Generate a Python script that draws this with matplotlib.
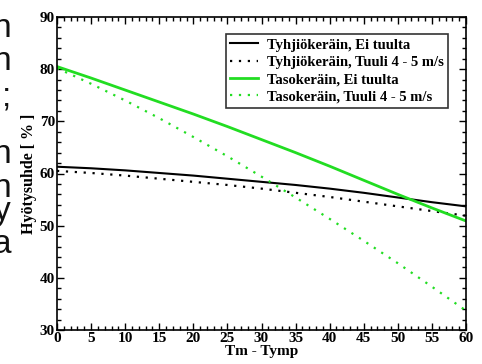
import numpy as np
import matplotlib
matplotlib.use("Agg")
import matplotlib.pyplot as plt
from matplotlib.ticker import MultipleLocator

# Values
dT = [0, 5, 10, 15, 20, 25, 30, 35, 40, 45, 50, 55, 60]
tyhjio_ei = [61.3, 61.0, 60.6, 60.1, 59.6, 59.0, 58.4, 57.8, 57.1, 56.3, 55.4, 54.5, 53.7]
tyhjio_tuuli = [60.5, 60.1, 59.6, 59.0, 58.4, 57.8, 57.1, 56.3, 55.5, 54.6, 53.7, 52.8, 51.9]
taso_ei = [80.5, 78.3, 76.0, 73.7, 71.4, 69.0, 66.5, 64.0, 61.4, 58.7, 56.0, 53.4, 50.9]
taso_tuuli = [80.2, 77.2, 74.0, 70.6, 67.0, 63.3, 59.4, 55.4, 51.3, 47.1, 42.8, 38.3, 33.7]

labels = ["Tyhjiökeräin, Ei tuulta", "Tyhjiökeräin, Tuuli 4 - 5 m/s",
          "Tasokeräin, Ei tuulta", "Tasokeräin, Tuuli 4 - 5 m/s"]

# fragments of the surrounding page text, cut at the left edge
side_chars = ["n", "n", ";", "n", "n", "y", "a"]
side_base = [37, 70, 105, 163, 197, 220, 253]

green = "#22dd22"

plt.rcParams["font.family"] = ["Liberation Serif", "DejaVu Serif"]
plt.rcParams["font.weight"] = "bold"
plt.rcParams["axes.labelweight"] = "bold"

fig = plt.figure(figsize=(4.82, 3.64), dpi=100)
ax = fig.add_axes([57 / 482, 1 - 330 / 364, (466 - 57) / 482, (330 - 17) / 364])

ax.plot(dT, tyhjio_ei, color="black", lw=1.5, label=labels[0])
ax.plot(dT, tyhjio_tuuli, color="black", lw=1.6, ls=(0, (1, 3)), label=labels[1])
ax.plot(dT, taso_ei, color=green, lw=2.0, label=labels[2])
ax.plot(dT, taso_tuuli, color=green, lw=1.6, ls=(0, (1, 3)), label=labels[3])

ax.set_xlim(0, 60)
ax.set_ylim(30, 90)
ax.xaxis.set_major_locator(MultipleLocator(5))
ax.xaxis.set_minor_locator(MultipleLocator(1))
ax.yaxis.set_major_locator(MultipleLocator(10))
ax.yaxis.set_minor_locator(MultipleLocator(2))
ax.tick_params(which="both", direction="in", top=True, right=True, width=1.0,
               labelsize=11)
ax.tick_params(which="major", length=5, pad=1.5)
ax.tick_params(which="minor", length=3)
for s in ax.spines.values():
    s.set_linewidth(1.2)

ax.set_xlabel("Tm - Tymp", fontsize=11, labelpad=0)
ax.set_ylabel("Hyötysuhde [ % ]", fontsize=11.5, labelpad=2)

leg = ax.legend(loc="upper right", bbox_to_anchor=(448 / 482, 1 - 34 / 364),
                bbox_transform=fig.transFigure, frameon=True, fancybox=False,
                prop={"weight": "bold", "size": 10.5},
                handlelength=1.9, handletextpad=0.6, labelspacing=0.28,
                borderpad=0.3, borderaxespad=0)
leg.get_frame().set_edgecolor("black")
leg.get_frame().set_linewidth(1.2)

for ch, y in zip(side_chars, side_base):
    fig.text(11 / 482, 1 - y / 364, ch, ha="right", va="baseline",
             fontfamily="Liberation Sans", fontweight="normal", fontsize=24,
             color="#111111")

fig.savefig("out.png", dpi=100)
